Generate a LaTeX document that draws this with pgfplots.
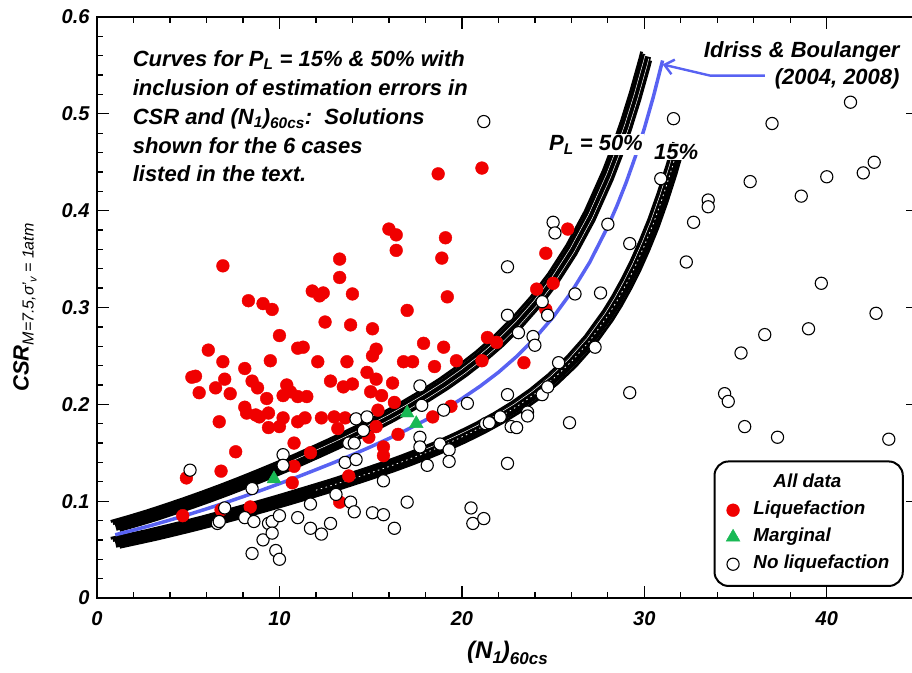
\documentclass[border=0pt]{standalone}
\usepackage{fontspec}
\setmainfont{Liberation Sans}
\usepackage{pgfplots}
\pgfplotsset{compat=1.18}
\usepackage{pgfplotstable}
\usetikzlibrary{arrows.meta}

\definecolor{ibblue}{RGB}{88,98,242}
\definecolor{liqred}{RGB}{240,0,0}
\definecolor{margreen}{RGB}{25,185,85}
\newcommand{\fs}[1]{\fontsize{#1pt}{#1pt}\selectfont\bfseries\itshape}
\newcommand{\fr}[1]{\fontsize{#1pt}{#1pt}\selectfont\mdseries\itshape}

% Idriss & Boulanger deterministic curve (blue)
\pgfplotstableread{
N y
1 0.0653
2 0.0701
3 0.0751
4 0.0805
5 0.0861
6 0.0920
7 0.0982
8 0.1046
9 0.1112
10 0.1181
11 0.1251
12 0.1325
13 0.1400
14 0.1479
15 0.1561
16 0.1647
17 0.1739
18 0.1837
19 0.1942
20 0.2059
21 0.2187
22 0.2330
23 0.2494
24 0.2682
25 0.2900
26 0.3158
27 0.3465
28 0.3836
28.5 0.4051
29 0.4289
29.5 0.4554
30 0.4849
30.5 0.5180
31 0.5551
}\ibtab

% P_L = 50% band (centre)
\pgfplotstableread{
N y
1 0.0744
2 0.0798
3 0.0855
4 0.0917
5 0.0981
6 0.1048
7 0.1118
8 0.1191
9 0.1267
10 0.1345
11 0.1425
12 0.1509
13 0.1595
14 0.1685
15 0.1778
16 0.1876
17 0.1981
18 0.2092
19 0.2212
20 0.2345
21 0.2491
22 0.2654
23 0.2841
24 0.3055
25 0.3303
26 0.3597
27 0.3947
28 0.4369
28.5 0.4614
29 0.4885
29.5 0.5187
30 0.5523
30.1 0.5596
}\pfifty

% P_L = 15% band (centre)
\pgfplotstableread{
N y
1 0.0570
2 0.0611
3 0.0652
4 0.0697
5 0.0743
6 0.0791
7 0.0842
8 0.0893
9 0.0946
10 0.1000
11 0.1056
12 0.1113
13 0.1170
14 0.1231
15 0.1293
16 0.1357
17 0.1426
18 0.1499
19 0.1577
20 0.1663
21 0.1756
22 0.1859
23 0.1975
24 0.2108
25 0.2262
26 0.2441
27 0.2654
28 0.2915
28.5 0.3067
29 0.3238
29.5 0.3425
30 0.3637
30.5 0.3869
31 0.4136
31.5 0.4430
31.85 0.4660
}\pfifteen

\pgfplotstableread{
x y
18.7 0.438
21.1 0.444
6.9 0.343
16.0 0.381
16.4 0.375
16.4 0.359
13.3 0.350
13.3 0.331
19.1 0.372
18.9 0.351
19.2 0.311
11.8 0.317
12.2 0.312
12.4 0.315
14.0 0.314
17.0 0.297
8.3 0.307
9.1 0.304
9.6 0.298
12.5 0.285
13.9 0.282
15.1 0.278
10.0 0.271
24.6 0.356
25.8 0.381
25.0 0.325
24.1 0.319
6.1 0.256
6.9 0.244
8.1 0.237
9.5 0.245
11.0 0.258
11.3 0.259
12.1 0.244
5.2 0.228
5.4 0.229
7.0 0.226
8.5 0.224
12.8 0.224
15.3 0.257
15.1 0.250
17.9 0.263
19.0 0.259
13.7 0.244
16.8 0.244
17.3 0.244
18.5 0.239
19.7 0.245
21.4 0.269
21.9 0.264
21.1 0.245
23.4 0.243
14.8 0.233
15.3 0.226
16.2 0.222
14.0 0.221
13.5 0.218
15.0 0.213
15.6 0.209
16.3 0.202
15.4 0.194
13.0 0.187
13.6 0.186
13.2 0.175
15.3 0.177
14.9 0.166
15.7 0.156
15.7 0.147
16.5 0.169
18.4 0.187
19.4 0.198
13.8 0.126
13.3 0.099
5.6 0.212
6.5 0.217
7.3 0.211
8.8 0.217
9.3 0.206
8.1 0.197
8.2 0.191
8.7 0.189
8.9 0.187
9.4 0.191
10.2 0.209
10.4 0.220
10.6 0.213
11.0 0.208
11.5 0.208
6.7 0.182
9.4 0.176
10.0 0.177
10.2 0.186
11.0 0.182
11.4 0.186
12.3 0.186
10.8 0.160
11.7 0.150
7.6 0.151
6.8 0.131
10.8 0.136
10.7 0.119
4.9 0.124
8.4 0.094
6.8 0.091
4.7 0.085
24.6 0.298
}\liqtab

\pgfplotstableread{
x y
9.7 0.123
17.0 0.191
17.5 0.180
}\martab

\pgfplotstableread{
x y
5.1 0.132
6.6 0.077
6.7 0.079
7.0 0.093
8.1 0.083
8.5 0.113
8.6 0.079
8.5 0.046
9.1 0.060
9.4 0.077
9.6 0.079
9.6 0.067
10.0 0.085
9.8 0.049
10.0 0.040
10.2 0.148
10.2 0.137
11.0 0.083
11.7 0.097
11.7 0.072
12.3 0.066
12.8 0.077
13.1 0.107
13.6 0.140
13.8 0.160
14.1 0.160
14.2 0.143
13.9 0.099
14.1 0.089
14.2 0.185
14.8 0.187
14.6 0.173
15.1 0.088
15.7 0.086
15.7 0.121
16.3 0.072
17.0 0.099
17.7 0.219
17.8 0.199
17.7 0.166
17.7 0.156
18.1 0.137
18.8 0.159
19.0 0.194
19.3 0.153
19.3 0.141
20.3 0.201
20.5 0.093
20.6 0.077
21.2 0.082
22.5 0.139
22.5 0.210
21.3 0.180
21.5 0.181
22.1 0.187
22.7 0.177
23.0 0.176
23.6 0.192
23.6 0.188
24.4 0.210
24.7 0.218
25.3 0.243
25.9 0.181
23.9 0.270
24.0 0.261
23.1 0.274
25.0 0.388
25.1 0.377
22.5 0.342
24.4 0.306
24.7 0.292
22.5 0.292
21.2 0.492
31.6 0.495
41.3 0.512
37.0 0.490
30.9 0.433
35.8 0.430
42.6 0.450
42.0 0.439
40.0 0.435
38.6 0.415
33.5 0.411
33.5 0.404
32.7 0.388
28.0 0.386
29.2 0.366
32.3 0.347
39.7 0.325
26.2 0.314
27.6 0.315
42.7 0.294
39.0 0.278
36.6 0.272
35.3 0.253
27.3 0.259
29.2 0.212
34.4 0.211
34.6 0.203
35.5 0.177
37.3 0.166
43.4 0.164
}\notab

\begin{document}
\begin{tikzpicture}
\begin{axis}[
  scale only axis, width=821pt, height=581pt,
  xmin=0, xmax=45, ymin=0, ymax=0.6,
  xtick={0,10,20,30,40},
  ytick={0,0.1,0.2,0.3,0.4,0.5,0.6},
  minor x tick num=4, minor y tick num=4,
  major tick length=12pt, minor tick length=6pt,
  tick style={black, line width=1.3pt},
  axis line style={line width=2.5pt},
  /pgf/number format/assume math mode=true,
  ticklabel style={font=\fs{20}},
  yticklabel style={/pgf/number format/fixed, /pgf/number format/precision=1, xshift=-4pt},
  xticklabel style={yshift=-10pt},
  xlabel={\fs{24}(N\raisebox{-5pt}{\fs{17}1})\raisebox{-6pt}{\fs{17}60cs}},
  ylabel={{\fs{22}CSR}\raisebox{-5pt}{\fr{16}M=7.5,σ'\raisebox{-3pt}{\fr{11}v} = 1atm}},
  every axis x label/.style={at={(axis description cs:0.5,-0.1033)}, anchor=base},
  every axis y label/.style={at={(axis description cs:-0.0877,0.5)}, anchor=center, rotate=90},
  legend style={at={(axis cs:44.22,0.0114)}, anchor=south east, draw=black,
    line width=2pt, rounded corners=14pt, inner xsep=10pt, inner ysep=9pt,
    column sep=10pt, row sep=1.5pt, font=\fs{18.8},
    nodes={inner sep=3.5pt, text height=14pt, text depth=4.5pt}},
  legend cell align=left,
]
% P_L = 50% band: solid core plus six strands
\addplot[black, line width=10pt, forget plot] table {\pfifty};
\addplot[black, line width=2.8pt, xshift=-4.5pt, yshift=4.5pt, forget plot] table {\pfifty};
\addplot[black, line width=2.8pt, xshift=-2.25pt, yshift=2.25pt, forget plot] table {\pfifty};
\addplot[black, line width=2.8pt, xshift=2.25pt, yshift=-2.25pt, forget plot] table {\pfifty};
\addplot[black, line width=2.8pt, xshift=4.5pt, yshift=-4.5pt, forget plot] table {\pfifty};
\addplot[white, line width=0.5pt, xshift=-1.1pt, yshift=1.1pt, restrict x to domain=10:31, forget plot] table {\pfifty};
\addplot[white, line width=0.5pt, xshift=2.6pt, yshift=-2.6pt, restrict x to domain=14:31, forget plot] table {\pfifty};
% P_L = 15% band
\addplot[black, line width=10pt, forget plot] table {\pfifteen};
\addplot[black, line width=2.8pt, xshift=-4.5pt, yshift=4.5pt, forget plot] table {\pfifteen};
\addplot[black, line width=2.8pt, xshift=-2.25pt, yshift=2.25pt, forget plot] table {\pfifteen};
\addplot[black, line width=2.8pt, xshift=2.25pt, yshift=-2.25pt, forget plot] table {\pfifteen};
\addplot[black, line width=2.8pt, xshift=4.5pt, yshift=-4.5pt, forget plot] table {\pfifteen};
\addplot[white, line width=0.5pt, xshift=-2.6pt, yshift=2.6pt, restrict x to domain=18:32, forget plot] table {\pfifteen};
\addplot[white, line width=0.8pt, dash pattern=on 1.5pt off 3.5pt, restrict x to domain=12:32, forget plot] table {\pfifteen};
% Idriss & Boulanger
\addplot[ibblue, line width=3.5pt, forget plot] table {\ibtab};

% annotations
\node[anchor=base west, inner sep=0, font=\fs{22}] at (axis cs:1.95,0.549) {Curves for P\textsubscript{L} = 15\% \& 50\% with};
\node[anchor=base west, inner sep=0, font=\fs{22}] at (axis cs:1.95,0.519) {inclusion of estimation errors in};
\node[anchor=base west, inner sep=0, font=\fs{22}] at (axis cs:1.95,0.489) {CSR and (N\textsubscript{1})\textsubscript{60cs}:\ \ Solutions};
\node[anchor=base west, inner sep=0, font=\fs{22}] at (axis cs:1.95,0.459) {shown for the 6 cases};
\node[anchor=base west, inner sep=0, font=\fs{22}] at (axis cs:1.95,0.430) {listed in the text.};
\node[fill=white, inner sep=1pt, font=\fs{22}] at (axis cs:27.35,0.468) {P\textsubscript{L} = 50\%};
\node[fill=white, inner sep=1pt, font=\fs{22}] at (axis cs:31.75,0.461) {15\%};
\node[anchor=base east, inner sep=0, font=\fs{22}] at (axis cs:44.0,0.5586) {Idriss \& Boulanger};
\node[anchor=base east, inner sep=0, font=\fs{22}] at (axis cs:44.0,0.530) {(2004, 2008)};
\draw[ibblue, line width=2.4pt, -{Straight Barb[length=9pt, width=15pt]}]
  (axis cs:36.6,0.5395) -- (axis cs:33.6,0.5395) -- (axis cs:31.0,0.551);

\addlegendimage{empty legend}
\addplot[only marks, mark=*, mark size=6.4pt, color=liqred,
  mark options={draw=liqred, fill=liqred, line width=0.4pt, sharp corners}] table {\liqtab};
\addplot[only marks, mark=triangle*, mark size=8pt, color=margreen,
  mark options={draw=margreen, fill=margreen, line width=0.4pt, sharp corners}] table {\martab};
\addplot[only marks, mark=*, mark size=6.1pt, color=black,
  mark options={draw=black, fill=white, line width=1.1pt, sharp corners}] table {\notab};
\legend{\hspace*{20pt}All data, Liquefaction, Marginal, No liquefaction}

\coordinate (SW) at (rel axis cs:0,0);
\coordinate (NW) at (rel axis cs:0,1);
\end{axis}
\pgfresetboundingbox
\path ([shift={(-97pt,-75pt)}]SW) rectangle ([shift={(815pt,17pt)}]NW);
\end{tikzpicture}
\end{document}
